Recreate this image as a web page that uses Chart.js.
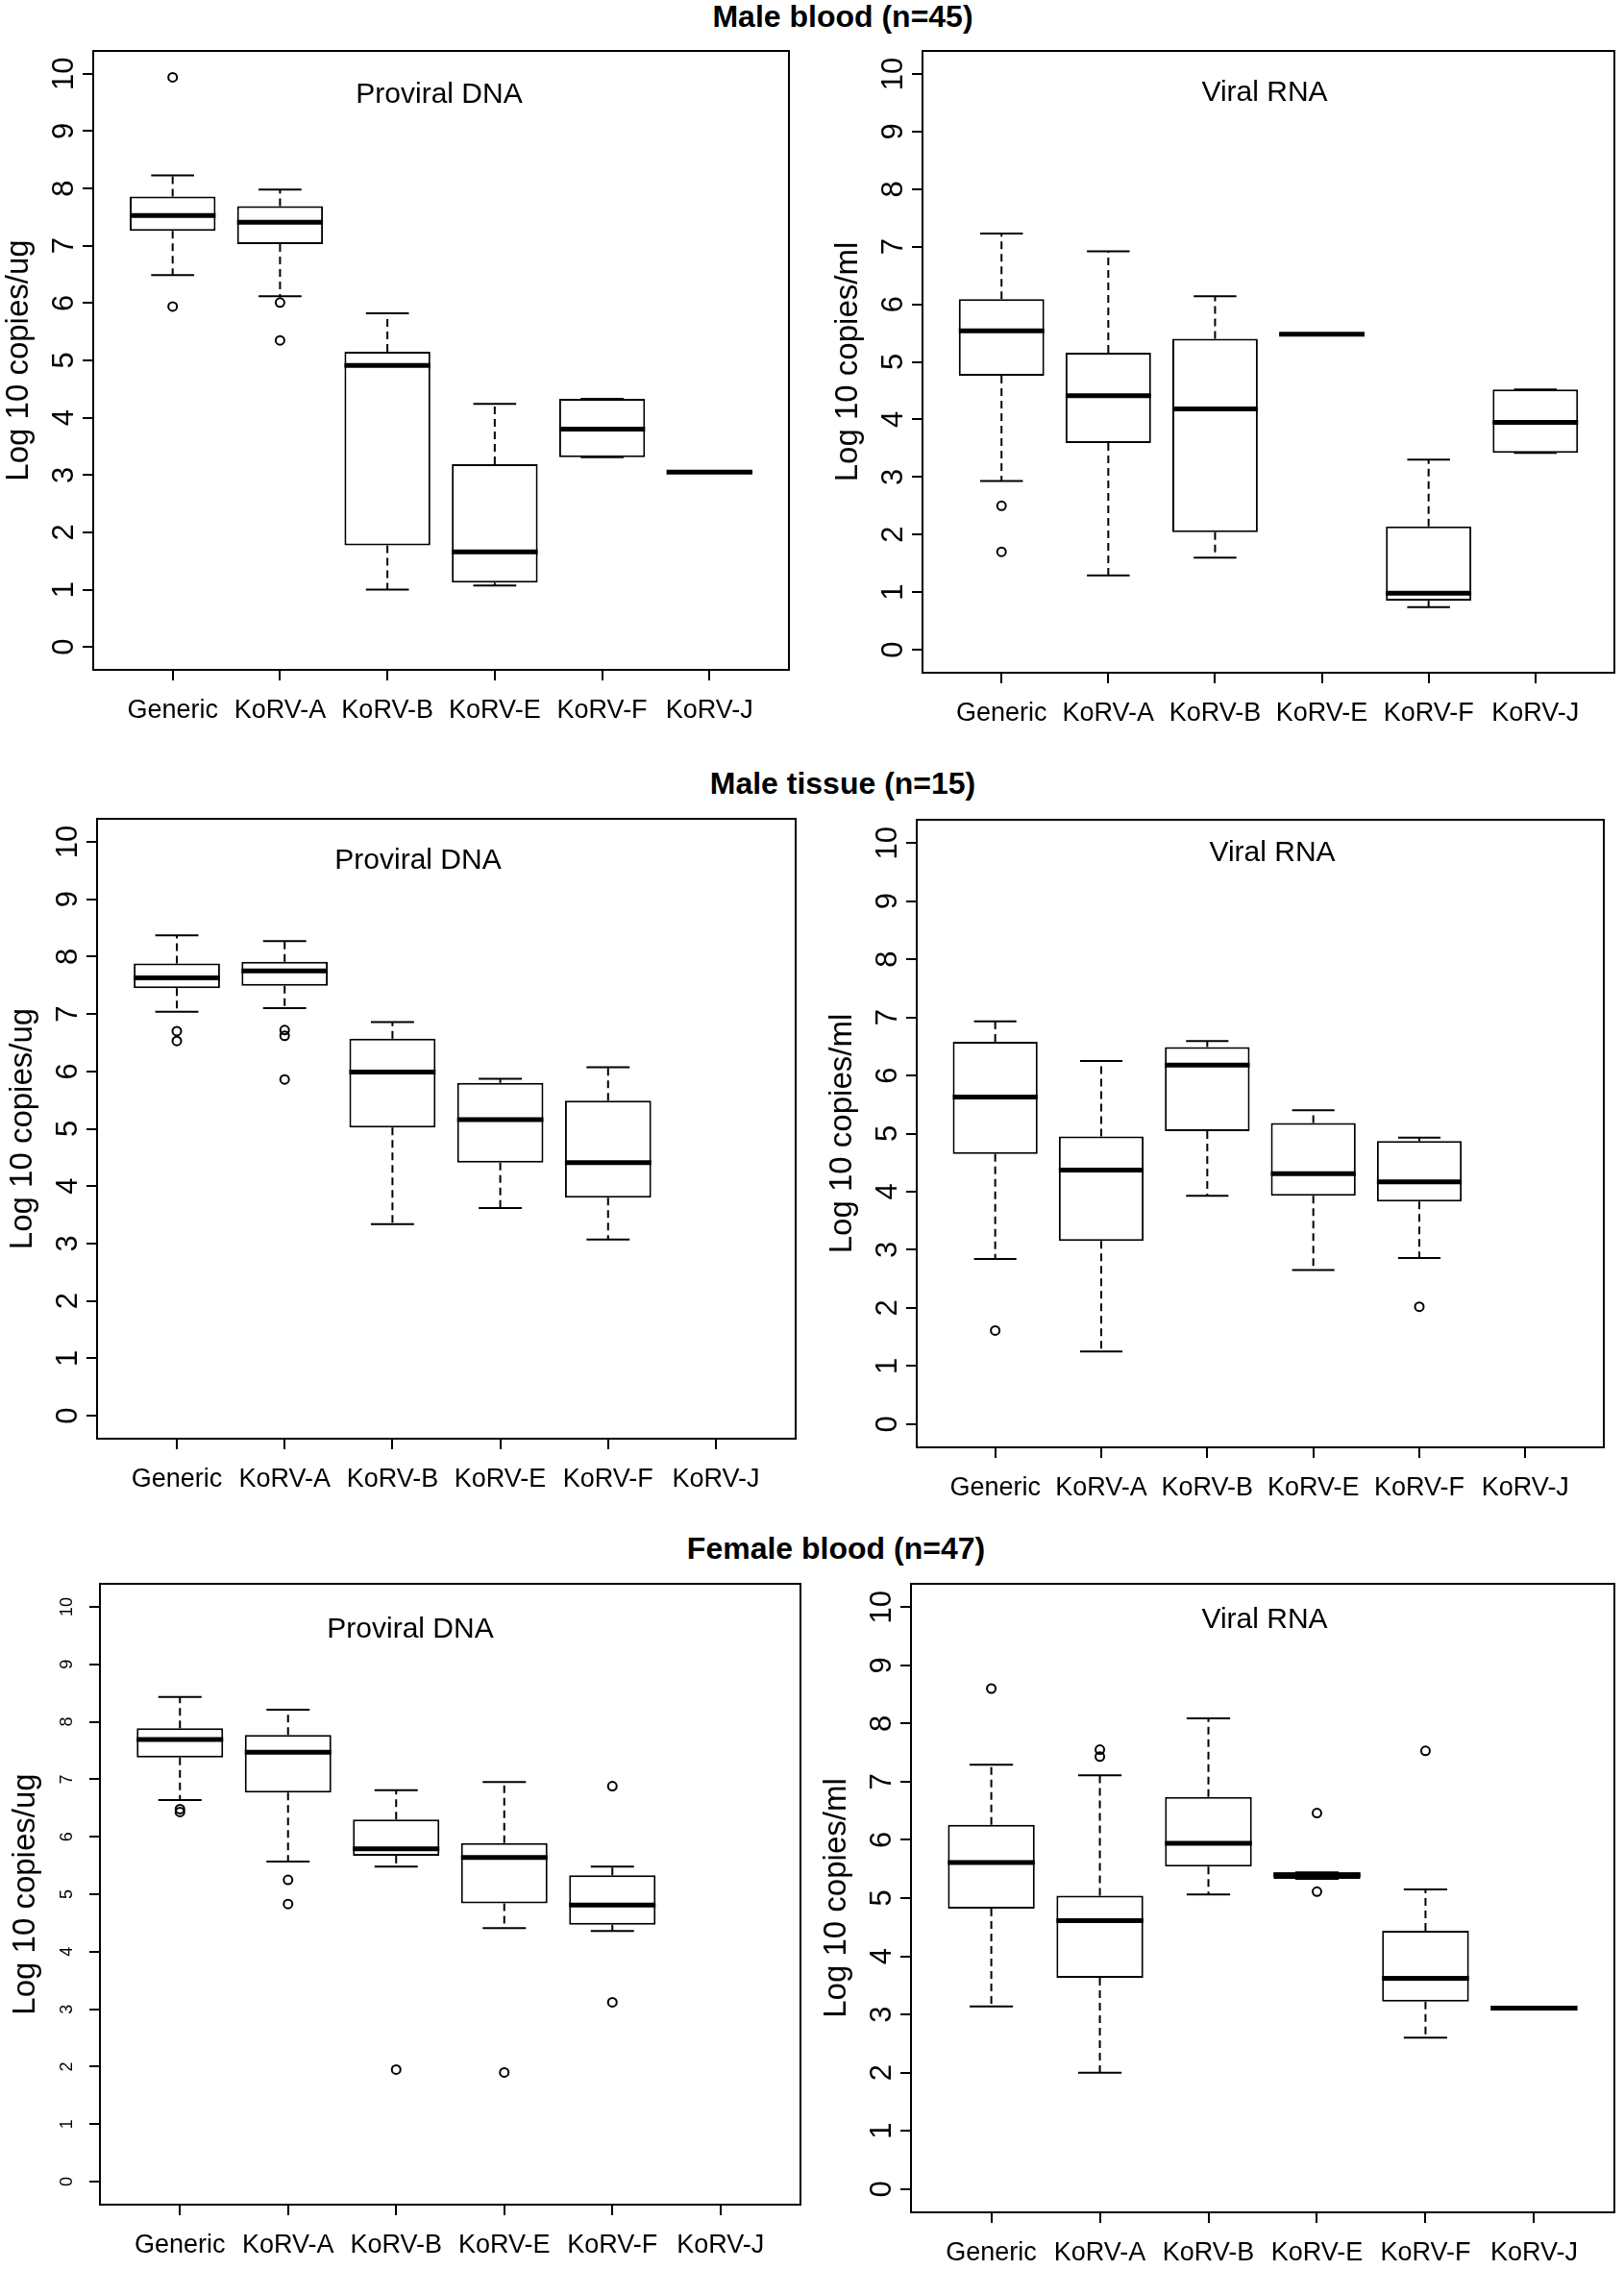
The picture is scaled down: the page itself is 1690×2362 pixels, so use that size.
<!DOCTYPE html>
<html>
<head>
<meta charset="utf-8">
<script src="https://cdn.jsdelivr.net/npm/chart.js@4/dist/chart.umd.min.js"></script>
<style>
  html, body { margin: 0; padding: 0; background: #fff; }
  body { width: 1690px; height: 2362px; position: relative; overflow: hidden; font-family: "Liberation Sans", Arial, sans-serif; }
  .main-title { position: absolute; transform: translateX(-50%); font-weight: bold; font-size: 32px; line-height: 32px; white-space: nowrap; color: #000; }
  canvas { position: absolute; }
</style>
</head>
<body>
<div class="main-title" style="left:877px; top:1px;">Male blood (n=45)</div>
<div class="main-title" style="left:877px; top:799px;">Male tissue (n=15)</div>
<div class="main-title" style="left:870px; top:1595px;">Female blood (n=47)</div>

<canvas id="p1"></canvas>
<canvas id="p2"></canvas>
<canvas id="p3"></canvas>
<canvas id="p4"></canvas>
<canvas id="p5"></canvas>
<canvas id="p6"></canvas>

<script>
// Groups on the x axis and the y tick values
const categories = ['Generic', 'KoRV-A', 'KoRV-B', 'KoRV-E', 'KoRV-F', 'KoRV-J'];
const yTicks = [0, 1, 2, 3, 4, 5, 6, 7, 8, 9, 10];

// Box stats per group: [lower whisker, Q1, median, Q3, upper whisker]; null = no data
const maleBloodDNA = [
    [6.49, 7.26, 7.53, 7.86, 8.23],
    [6.12, 7.03, 7.41, 7.69, 7.98],
    [1.00, 1.77, 4.91, 5.15, 5.82],
    [1.07, 1.12, 1.66, 3.19, 4.24],
    [3.31, 3.31, 3.80, 4.33, 4.33],
    [3.05, 3.05, 3.05, 3.05, 3.05]
];
const maleBloodDNAOut = [[9.94, 5.94], [6.01, 5.35], [], [], [], []];

const maleBloodRNA = [
    [2.93, 4.76, 5.54, 6.09, 7.23],
    [1.29, 3.59, 4.41, 5.16, 6.92],
    [1.60, 2.04, 4.18, 5.40, 6.14],
    [5.48, 5.48, 5.48, 5.48, 5.48],
    [0.74, 0.85, 0.98, 2.14, 3.30],
    [3.42, 3.42, 3.95, 4.52, 4.52]
];
const maleBloodRNAOut = [[2.50, 1.70], [], [], [], [], []];

const maleTissueDNA = [
    [7.04, 7.45, 7.63, 7.88, 8.37],
    [7.10, 7.49, 7.75, 7.91, 8.27],
    [3.34, 5.02, 5.99, 6.57, 6.86],
    [3.62, 4.41, 5.16, 5.80, 5.87],
    [3.07, 3.80, 4.41, 5.49, 6.07],
    null
];
const maleTissueDNAOut = [[6.70, 6.53], [6.72, 6.62, 5.86], [], [], [], []];

const maleTissueRNA = [
    [2.84, 4.65, 5.63, 6.58, 6.93],
    [1.25, 3.15, 4.37, 4.95, 6.25],
    [3.93, 5.04, 6.18, 6.49, 6.59],
    [2.65, 3.93, 4.31, 5.18, 5.40],
    [2.86, 3.83, 4.17, 4.87, 4.93],
    null
];
const maleTissueRNAOut = [[1.61], [], [], [], [2.02], []];

const femaleBloodDNA = [
    [6.64, 7.38, 7.69, 7.89, 8.43],
    [5.57, 6.77, 7.47, 7.77, 8.21],
    [5.48, 5.67, 5.79, 6.30, 6.81],
    [4.41, 4.84, 5.64, 5.89, 6.95],
    [4.36, 4.47, 4.81, 5.33, 5.48],
    null
];
const femaleBloodDNAOut = [[6.48, 6.43], [5.25, 4.83], [1.95], [1.90], [6.88, 3.12], []];

const femaleBloodRNA = [
    [3.14, 4.82, 5.61, 6.26, 7.29],
    [2.00, 3.63, 4.61, 5.04, 7.11],
    [5.06, 5.54, 5.94, 6.74, 8.09],
    [5.33, 5.33, 5.40, 5.44, 5.44],
    [2.60, 3.22, 3.62, 4.44, 5.15],
    [3.11, 3.11, 3.11, 3.11, 3.11]
];
const femaleBloodRNAOut = [[8.60], [7.55, 7.43], [], [6.46, 5.11], [7.53], []];

const FONT = '"Liberation Sans", Arial, sans-serif';

// page layout of each plot box: [left, top, right, bottom], inner title centre [x, y]
const panels = [
    { id: 'p1', rows: maleBloodDNA, out: maleBloodDNAOut, yTitle: 'Log 10 copies/ug', title: 'Proviral DNA', box: [97, 53, 821, 697], titleAt: [457, 99], tickSize: 31 },
    { id: 'p2', rows: maleBloodRNA, out: maleBloodRNAOut, yTitle: 'Log 10 copies/ml', title: 'Viral RNA', box: [960, 53, 1680, 700], titleAt: [1316, 97], tickSize: 31 },
    { id: 'p3', rows: maleTissueDNA, out: maleTissueDNAOut, yTitle: 'Log 10 copies/ug', title: 'Proviral DNA', box: [101, 852, 828, 1497], titleAt: [435, 896], tickSize: 31 },
    { id: 'p4', rows: maleTissueRNA, out: maleTissueRNAOut, yTitle: 'Log 10 copies/ml', title: 'Viral RNA', box: [954, 853, 1669, 1506], titleAt: [1324, 888], tickSize: 31 },
    { id: 'p5', rows: femaleBloodDNA, out: femaleBloodDNAOut, yTitle: 'Log 10 copies/ug', title: 'Proviral DNA', box: [104, 1648, 833, 2294], titleAt: [427, 1696], tickSize: 18 },
    { id: 'p6', rows: femaleBloodRNA, out: femaleBloodRNAOut, yTitle: 'Log 10 copies/ml', title: 'Viral RNA', box: [948, 1648, 1680, 2302], titleAt: [1316, 1686], tickSize: 31 }
];

const AXIS_W = 95, AXIS_H = 75, PAD = 24;

// Draws whiskers, caps, medians, the frame and the inner title, all from the chart scales
const boxWhiskers = {
    id: 'boxWhiskers',
    afterDatasetsDraw(chart, args, opts) {
        const { ctx, chartArea: a } = chart;
        const xs = chart.scales.x, ys = chart.scales.y;
        const seg = (x1, y1, x2, y2) => { ctx.beginPath(); ctx.moveTo(x1, y1); ctx.lineTo(x2, y2); ctx.stroke(); };
        ctx.save();
        ctx.strokeStyle = '#000';
        ctx.lineCap = 'butt';
        opts.rows.forEach((r, i) => {
            if (!r) return;
            const [lo, q1, med, q3, hi] = r;
            const cx = xs.getPixelForValue(i + 1);
            const half = xs.getPixelForValue(i + 1.4) - cx;
            const cap = half / 2;
            ctx.lineWidth = 2;
            ctx.setLineDash([8, 5]);
            if (hi > q3) seg(cx, ys.getPixelForValue(q3), cx, ys.getPixelForValue(hi));
            if (lo < q1) seg(cx, ys.getPixelForValue(q1), cx, ys.getPixelForValue(lo));
            ctx.setLineDash([]);
            seg(cx - cap, ys.getPixelForValue(hi), cx + cap, ys.getPixelForValue(hi));
            seg(cx - cap, ys.getPixelForValue(lo), cx + cap, ys.getPixelForValue(lo));
            ctx.lineWidth = 5;
            seg(cx - half, ys.getPixelForValue(med), cx + half, ys.getPixelForValue(med));
        });
        ctx.lineWidth = 2;
        ctx.strokeRect(a.left, a.top, a.width, a.height);
        ctx.fillStyle = '#000';
        ctx.font = '30px ' + FONT;
        ctx.textAlign = 'center';
        ctx.textBaseline = 'middle';
        ctx.fillText(opts.title, a.left + opts.titleDx, a.top + opts.titleDy);
        ctx.restore();
    }
};

function drawPanel(p) {
    const [l, t, r, b] = p.box;
    const canvas = document.getElementById(p.id);
    canvas.width = (r - l) + AXIS_W + PAD;
    canvas.height = (b - t) + AXIS_H + PAD;
    canvas.style.left = (l - AXIS_W) + 'px';
    canvas.style.top = (t - PAD) + 'px';

    const boxData = [];
    p.rows.forEach((row, i) => { if (row) boxData.push({ x: i + 1, y: [row[1], row[3]] }); });
    const outData = [];
    p.out.forEach((vals, i) => vals.forEach(v => outData.push({ x: i + 1, y: v })));

    const tickGrid = { display: true, offset: false, drawOnChartArea: false, drawTicks: true, tickLength: 11, color: '#000', lineWidth: 2 };

    new Chart(canvas.getContext('2d'), {
        type: 'bar',
        data: {
            datasets: [
                {
                    type: 'scatter',
                    data: outData,
                    pointStyle: 'circle',
                    pointRadius: 4.5,
                    borderWidth: 2,
                    borderColor: '#000',
                    backgroundColor: 'rgba(0,0,0,0)'
                },
                {
                    type: 'bar',
                    data: boxData,
                    backgroundColor: '#fff',
                    borderColor: '#000',
                    borderWidth: 2,
                    borderSkipped: false,
                    categoryPercentage: 1,
                    barPercentage: 0.8
                }
            ]
        },
        options: {
            responsive: false,
            animation: false,
            events: [],
            layout: { padding: { top: PAD, right: PAD, left: 0, bottom: 0 } },
            scales: {
                x: {
                    type: 'linear',
                    min: 0.26,
                    max: 6.74,
                    offset: false,
                    afterBuildTicks: s => { s.ticks = categories.map((c, i) => ({ value: i + 1 })); },
                    afterFit: s => { s.height = AXIS_H; },
                    ticks: {
                        callback: v => categories[v - 1],
                        autoSkip: false,
                        maxRotation: 0,
                        padding: 15,
                        color: '#000',
                        font: { family: FONT, size: 27 }
                    },
                    grid: tickGrid,
                    border: { display: false }
                },
                y: {
                    type: 'linear',
                    min: -0.4,
                    max: 10.4,
                    afterBuildTicks: s => { s.ticks = yTicks.map(v => ({ value: v })); },
                    afterFit: s => { s.width = AXIS_W; },
                    ticks: {
                        minRotation: 90,
                        maxRotation: 90,
                        crossAlign: 'center',
                        padding: p.tickSize > 20 ? 1 : 13,
                        color: '#000',
                        font: { family: FONT, size: p.tickSize }
                    },
                    grid: tickGrid,
                    border: { display: false },
                    title: {
                        display: true,
                        text: p.yTitle,
                        color: '#000',
                        font: { family: FONT, size: 33, lineHeight: 1 },
                        padding: { top: 1, bottom: 0 }
                    }
                }
            },
            plugins: {
                legend: { display: false },
                tooltip: { enabled: false },
                boxWhiskers: {
                    rows: p.rows,
                    title: p.title,
                    titleDx: p.titleAt[0] - l,
                    titleDy: p.titleAt[1] - t
                }
            }
        },
        plugins: [boxWhiskers]
    });
}

panels.forEach(drawPanel);
</script>
</body>
</html>
